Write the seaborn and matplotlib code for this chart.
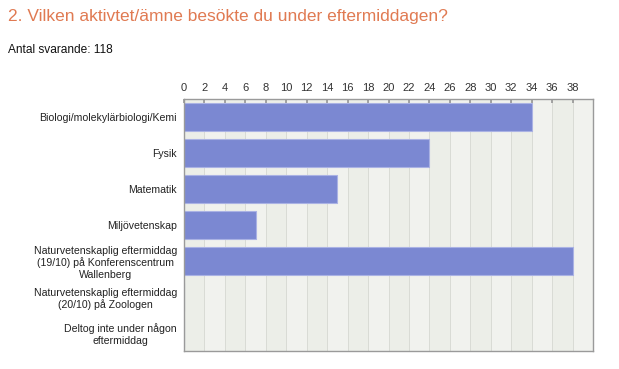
import matplotlib
matplotlib.use("Agg")
import matplotlib.pyplot as plt
import seaborn as sns
import pandas as pd

categories = [
    "Biologi/molekylärbiologi/Kemi",
    "Fysik",
    "Matematik",
    "Miljövetenskap",
    "Naturvetenskaplig eftermiddag\n(19/10) på Konferenscentrum\nWallenberg",
    "Naturvetenskaplig eftermiddag\n(20/10) på Zoologen",
    "Deltog inte under någon\neftermiddag",
]
values = [34, 24, 15, 7, 38, 0, 0]
xticks = list(range(0, 40, 2))

title = "2. Vilken aktivtet/ämne besökte du under eftermiddagen?"
subtitle = "Antal svarande: 118"

sns.set_theme(style="white")
plt.rcParams["font.family"] = ["Liberation Sans", "DejaVu Sans"]

df = pd.DataFrame({"cat": categories, "val": values})

fig = plt.figure(figsize=(6.19, 3.69), dpi=100)
W, H = 619, 369
ax = fig.add_axes([184 / W, 1 - 351 / H, (593 - 184) / W, (351 - 99) / H])

# striped background
ax.set_facecolor("#f3f4f0")
for i, x0 in enumerate(range(0, 40, 2)):
    shade = "#eceee8" if i % 2 == 0 else "#f1f2ee"
    ax.axvspan(x0, x0 + 2, color=shade, zorder=0, lw=0)
for x in xticks[1:] + [38]:
    ax.axvline(x, color="#d9dbd5", lw=0.7, zorder=0.5)

sns.barplot(data=df, x="val", y="cat", orient="h", color="#7b88d2",
            saturation=1, width=0.78, ax=ax, zorder=2,
            edgecolor="#aab2e4", linewidth=0.8)

ax.set_xlim(0, 40)
ax.set_ylim(6.5, -0.5)
ax.set_xticks(xticks)
ax.xaxis.tick_top()
ax.tick_params(axis="x", which="both", direction="in", length=3, color="#999999",
               labelsize=8, pad=4, labelcolor="#333333", top=True, bottom=False)
ax.tick_params(axis="y", length=0, labelsize=7.6, pad=5, labelcolor="#222222")
for lab in ax.get_yticklabels():
    lab.set_horizontalalignment("right")
    lab.set_multialignment("center")
ax.set_xlabel("")
ax.set_ylabel("")
for s in ax.spines.values():
    s.set_color("#9a9a9a")
    s.set_linewidth(1)

fig.text(8 / W, 1 - 16 / H, title, color="#e07a52", fontsize=12.5, va="center", ha="left")
fig.text(8 / W, 1 - 50 / H, subtitle, color="#111111", fontsize=8.6, va="center", ha="left")

fig.savefig("out.png", dpi=100, facecolor="white")
